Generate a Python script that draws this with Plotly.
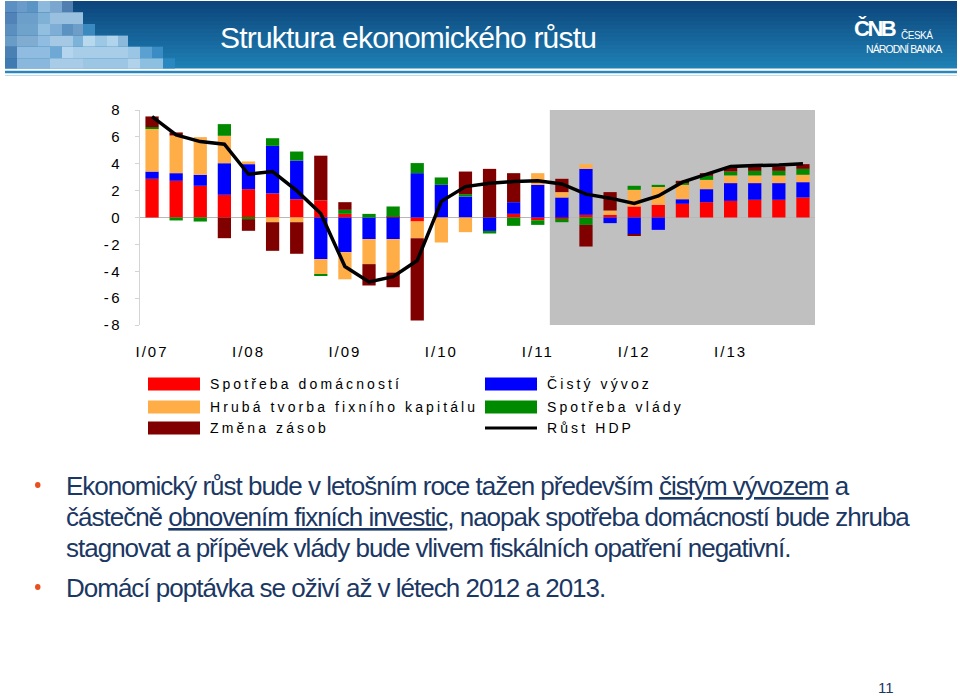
import plotly.graph_objects as go

# ---------------- data ----------------
quarters = ["I/07", "II/07", "III/07", "IV/07", "I/08", "II/08", "III/08", "IV/08",
            "I/09", "II/09", "III/09", "IV/09", "I/10", "II/10", "III/10", "IV/10",
            "I/11", "II/11", "III/11", "IV/11", "I/12", "II/12", "III/12", "IV/12",
            "I/13", "II/13", "III/13", "IV/13"]

spotreba_domacnosti = [2.88, 2.73, 2.36, 1.69, 2.11, 1.79, 1.36, 1.27,
                       0.27, 0.0, 0.05, -0.30, 0.0, 0.0, 0.0, 0.27,
                       -0.20, -0.10, 0.20, 0.20, 0.82, 0.94, 1.02, 1.14,
                       1.24, 1.32, 1.32, 1.49]
cisty_vyvoz = [0.54, 0.57, 0.82, 2.35, 1.86, 3.54, 2.88, -3.10,
               -2.58, -1.61, -1.61, 3.30, 2.43, 1.56, -1.00, 0.87,
               2.43, 1.49, 3.42, -0.42, -1.24, -0.92, 0.34, 0.97,
               1.32, 1.24, 1.24, 1.14]
hruba_tvorba = [3.23, 2.80, 2.80, 2.04, 0.20, -0.35, -0.35, -1.12,
                -2.02, -1.86, -2.49, -1.24, -1.86, -1.09, 0.0, 0.0,
                0.87, 0.40, 0.35, 0.32, 1.24, 1.37, 1.07, 0.69,
                0.57, 0.57, 0.57, 0.55]
spotreba_vlady = [0.07, -0.22, -0.30, 0.87, -0.12, 0.57, 0.67, -0.12,
                  0.30, 0.27, 0.77, 0.75, 0.55, 0.18, -0.19, -0.62,
                  -0.35, -0.25, -0.55, 0.0, 0.30, 0.12, 0.20, 0.30,
                  0.29, 0.34, 0.34, 0.44]
zmena_zasob = [0.80, 0.23, 0.0, -1.54, -0.87, -2.13, -2.35, 3.33,
               0.57, -1.59, -1.09, -6.13, 0.0, 1.68, 3.62, 2.16,
               0.0, 0.99, -1.61, 1.37, -0.10, 0.0, 0.10, 0.20,
               0.30, 0.33, 0.33, 0.35]
rust_hdp = [7.5, 6.15, 5.65, 5.45, 3.22, 3.42, 2.0, 0.3,
            -3.65, -4.8, -4.4, -3.2, 1.2, 2.3, 2.55, 2.68,
            2.73, 2.5, 1.74, 1.44, 1.05, 1.6, 2.63, 3.22,
            3.8, 3.87, 3.9, 4.0]

x_tick_labels = ["I/07", "I/08", "I/09", "I/10", "I/11", "I/12", "I/13"]
y_ticks = [-8, -6, -4, -2, 0, 2, 4, 6, 8]

series_names = ["Spotřeba domácností", "Čistý vývoz", "Hrubá tvorba fixního kapitálu",
                "Spotřeba vlády", "Změna zásob"]
series_values = [spotreba_domacnosti, cisty_vyvoz, hruba_tvorba, spotreba_vlady, zmena_zasob]
series_colors = ["#FF0000", "#0000FF", "#FFAD47", "#008A00", "#800000"]

# ---------------- geometry helpers ----------------
W, H = 960, 696
PL, PR, PT, PB = 140, 815, 110, 325   # plot area in pixels


def px(x):
    return (x - PL) / (PR - PL)


def py(y):
    return (PB - y) / (PB - PT)


SP = "letter-spacing:{}px"
SANS = "Liberation Sans, Arial, sans-serif"

fig = go.Figure()

for name, vals, col in zip(series_names, series_values, series_colors):
    fig.add_trace(go.Bar(x=quarters, y=vals, name=name, marker=dict(color=col, line=dict(width=0)),
                         showlegend=False))

fig.add_trace(go.Scatter(x=quarters, y=rust_hdp, name="Růst HDP", mode="lines",
                         line=dict(color="black", width=3.5), showlegend=False))

shapes = []
annotations = []

# forecast shading
shapes.append(dict(type="rect", xref="x", yref="y", x0=16.5, x1=27.5, y0=-8, y1=8,
                   fillcolor="#C0C0C0", line=dict(width=0), layer="below"))

# ---------------- header banner ----------------
top_c = (12, 70, 124)
bot_c = (31, 128, 180)
n = 17
for i in range(n):
    t = i / (n - 1)
    c = tuple(int(top_c[k] + (bot_c[k] - top_c[k]) * t) for k in range(3))
    y0 = 1 + i * 4
    y1 = min(68.5, y0 + 4.3)
    shapes.append(dict(type="rect", xref="paper", yref="paper", x0=px(5), x1=px(957),
                       y0=py(y1), y1=py(y0), fillcolor="rgb(%d,%d,%d)" % c, line=dict(width=0),
                       layer="above"))

mosaic = [
    (1, 12.3, [(5, 17, "#5c8fc2"), (17, 27, "#6a9bcb"), (27, 38, "#5b95c6"), (38, 50, "#8cb9dc"),
               (50, 62, "#7aa6d0"), (62, 73, "#4f7fb0")]),
    (12.3, 24, [(5, 17, "#5283b8"), (17, 38, "#6d9fcb"), (38, 50, "#7fb0d6"), (50, 83, "#9ac0e0")]),
    (24, 35.6, [(5, 17, "#5a8fc0"), (17, 38, "#6fa3cc"), (38, 50, "#92bfe0"), (50, 62, "#7eaed6"),
                (62, 73, "#5c92c2"), (73, 83, "#6e9dc8"), (83, 95, "#3a8ac0")]),
    (35.6, 46.7, [(5, 17, "#6a9cc8"), (17, 38, "#80acd2"), (38, 50, "#8fbce0"), (50, 73, "#a5c8e4"),
                  (73, 83, "#7db3d8"), (83, 95, "#b8d8ee"), (95, 107, "#9cc8e6"), (107, 118, "#b0d4ec"),
                  (118, 128, "#8ab9dc")]),
    (46.7, 58.3, [(5, 17, "#4a80b4"), (17, 50, "#8fbce0"), (50, 62, "#6ea8d4"), (62, 73, "#b5d5ee"),
                  (73, 128, "#a8cde8"), (128, 140, "#9ac5e4"), (140, 152, "#5aa0d0"), (152, 163, "#3a8cc4")]),
    (58.3, 68.5, [(5, 17, "#3f7ab0"), (17, 50, "#8ab8dc"), (50, 83, "#a8cce8"), (83, 128, "#9cc6e4"),
                  (128, 140, "#b0d2ea"), (140, 163, "#8dc0e0"), (163, 175, "#2a88c0")]),
]
for (ya, yb, cells) in mosaic:
    for (xa, xb, col) in cells:
        shapes.append(dict(type="rect", xref="paper", yref="paper", x0=px(xa), x1=px(xb),
                           y0=py(yb), y1=py(ya), fillcolor=col, line=dict(width=0), layer="above"))

# lines under the banner
shapes.append(dict(type="rect", xref="paper", yref="paper", x0=px(5), x1=px(957),
                   y0=py(73.3), y1=py(70.7), fillcolor="#2a86bb", line=dict(width=0)))
shapes.append(dict(type="rect", xref="paper", yref="paper", x0=px(5), x1=px(957),
                   y0=py(76), y1=py(75.2), fillcolor="#a9d0e8", line=dict(width=0)))

annotations.append(dict(text='<span style="%s">Struktura ekonomického růstu</span>' % SP.format(-0.8),
                        xref="paper", yref="paper",
                        x=px(218), y=py(37), xanchor="left", yanchor="middle", showarrow=False,
                        font=dict(family=SANS, size=30, color="white")))
annotations.append(dict(text='<span style="%s"><b>ČNB</b></span>' % SP.format(-2.5),
                        xref="paper", yref="paper",
                        x=px(852), y=py(28), xanchor="left", yanchor="middle", showarrow=False,
                        font=dict(family=SANS, size=22, color="white")))
annotations.append(dict(text='<span style="%s">ČESKÁ</span>' % SP.format(-0.5),
                        xref="paper", yref="paper",
                        x=px(899), y=py(35), xanchor="left", yanchor="middle", showarrow=False,
                        font=dict(family=SANS, size=10, color="white")))
annotations.append(dict(text='<span style="%s">NÁRODNÍ BANKA</span>' % SP.format(-0.9),
                        xref="paper", yref="paper",
                        x=px(864), y=py(48.5), xanchor="left", yanchor="middle", showarrow=False,
                        font=dict(family=SANS, size=10.5, color="white")))

# ---------------- legend (drawn manually) ----------------
legend_font = dict(family=SANS, size=14, color="black")
leg_rows = [384, 407, 428]
leg_items = [
    (148, leg_rows[0], series_colors[0], series_names[0]),
    (148, leg_rows[1], series_colors[2], series_names[2]),
    (148, leg_rows[2], series_colors[4], series_names[4]),
    (485, leg_rows[0], series_colors[1], series_names[1]),
    (485, leg_rows[1], series_colors[3], series_names[3]),
]
for (xs, yc, col, name) in leg_items:
    shapes.append(dict(type="rect", xref="paper", yref="paper", x0=px(xs), x1=px(xs + 52),
                       y0=py(yc + 6.5), y1=py(yc - 6.5), fillcolor=col, line=dict(width=0)))
    annotations.append(dict(text='<span style="%s">%s</span>' % (SP.format(3.1), name),
                            xref="paper", yref="paper", x=px(xs + 60), y=py(yc),
                            xanchor="left", yanchor="middle", showarrow=False, font=legend_font))
shapes.append(dict(type="line", xref="paper", yref="paper", x0=px(485), x1=px(537),
                   y0=py(leg_rows[2]), y1=py(leg_rows[2]), line=dict(color="black", width=3)))
annotations.append(dict(text='<span style="%s">Růst HDP</span>' % SP.format(3.1),
                        xref="paper", yref="paper", x=px(545), y=py(leg_rows[2]),
                        xanchor="left", yanchor="middle", showarrow=False, font=legend_font))

# ---------------- slide text ----------------
navy = "#1b3763"
body_font = dict(family=SANS, size=26, color=navy)
NS = SP.format(-1.0)
body_lines = [
    (486, 'Ekonomický růst bude v letošním roce tažen především <u>čistým vývozem</u> a'),
    (517, 'částečně <u>obnovením fixních investic</u>, naopak spotřeba domácností bude zhruba'),
    (548, 'stagnovat a přípěvek vlády bude vlivem fiskálních opatření negativní.'),
    (588, 'Domácí poptávka se oživí až v létech 2012 a 2013.'),
]
for (yc, txt) in body_lines:
    annotations.append(dict(text='<span style="%s">%s</span>' % (NS, txt), xref="paper", yref="paper",
                            x=px(64), y=py(yc),
                            xanchor="left", yanchor="middle", showarrow=False, font=body_font))
for yc in (485, 587):
    shapes.append(dict(type="circle", xref="paper", yref="paper", x0=px(35), x1=px(40.5),
                       y0=py(yc + 3), y1=py(yc - 3), fillcolor="#E8501E", line=dict(width=0)))

annotations.append(dict(text="11", xref="paper", yref="paper", x=px(896), y=py(687),
                        xanchor="right", yanchor="middle", showarrow=False,
                        font=dict(family=SANS, size=15, color=navy)))

fig.update_layout(
    width=W, height=H,
    margin=dict(l=PL, r=W - PR, t=PT, b=H - PB, pad=0),
    paper_bgcolor="white", plot_bgcolor="white",
    barmode="relative", bargap=0.45,
    showlegend=False,
    shapes=shapes, annotations=annotations,
    font=dict(family=SANS, size=15, color="black"),
)
fig.update_xaxes(type="category", range=[-0.5, 27.5], tickmode="array",
                 tickvals=x_tick_labels,
                 ticktext=['<span style="%s">%s</span>' % (SP.format(2), t) for t in x_tick_labels],
                 showgrid=False, showline=False, zeroline=False, ticks="",
                 ticklabelstandoff=16, tickfont=dict(size=15), automargin=False)
fig.update_yaxes(range=[-8, 8], tickmode="array", tickvals=y_ticks,
                 ticktext=['<span style="%s">%s</span>' % (SP.format(2.5), v) for v in y_ticks],
                 showgrid=False, showline=True, linecolor="#d4d4d4", linewidth=1,
                 ticks="outside", ticklen=4, tickcolor="#d4d4d4",
                 zeroline=True, zerolinecolor="#b8b8b8", zerolinewidth=1,
                 ticklabelstandoff=10, tickfont=dict(size=15), automargin=False)

fig.write_html("out.html", config={"displayModeBar": False},
               post_script="document.body.style.margin='0px';")
